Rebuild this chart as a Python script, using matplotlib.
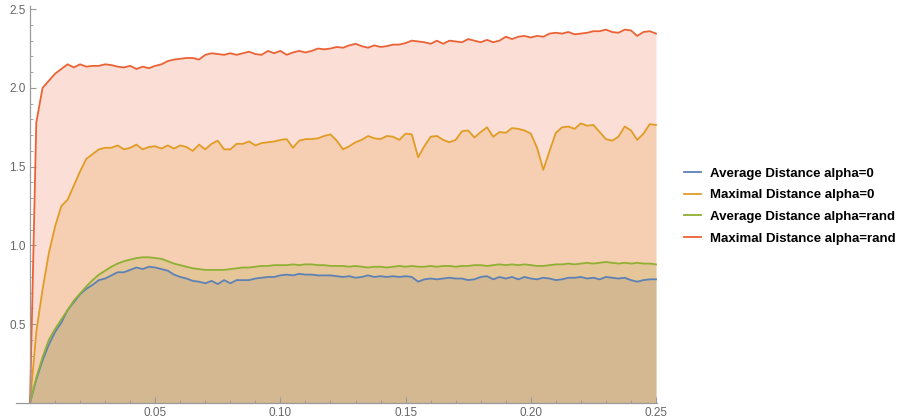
import matplotlib.pyplot as plt
import numpy as np
from matplotlib.ticker import MultipleLocator, FixedLocator

x = np.linspace(0, 0.25, 101)

avg_alpha0 = [0, 0.15, 0.27, 0.37, 0.45, 0.51, 0.59, 0.64, 0.69, 0.725,
              0.75, 0.78, 0.79, 0.81, 0.83, 0.83, 0.845, 0.86, 0.85, 0.865,
              0.86, 0.85, 0.84, 0.815, 0.80, 0.79, 0.775, 0.77, 0.76, 0.775,
              0.755, 0.78, 0.76, 0.78, 0.78, 0.78, 0.79, 0.795, 0.80, 0.80,
              0.81, 0.815, 0.81, 0.82, 0.815, 0.815, 0.81, 0.81, 0.81, 0.805,
              0.80, 0.805, 0.795, 0.80, 0.81, 0.80, 0.805, 0.80, 0.805, 0.80,
              0.805, 0.80, 0.77, 0.785, 0.79, 0.785, 0.79, 0.795, 0.79, 0.79,
              0.78, 0.785, 0.80, 0.805, 0.785, 0.80, 0.79, 0.80, 0.785, 0.80,
              0.79, 0.785, 0.795, 0.79, 0.78, 0.785, 0.795, 0.795, 0.80, 0.79,
              0.795, 0.785, 0.80, 0.795, 0.79, 0.795, 0.78, 0.77, 0.78, 0.785,
              0.785]

max_alpha0 = [0, 0.45, 0.72, 0.95, 1.12, 1.25, 1.29, 1.38, 1.47, 1.55,
              1.58, 1.61, 1.62, 1.62, 1.635, 1.61, 1.62, 1.64, 1.61, 1.625,
              1.63, 1.615, 1.635, 1.615, 1.635, 1.625, 1.60, 1.64, 1.61, 1.645,
              1.665, 1.61, 1.61, 1.645, 1.645, 1.66, 1.635, 1.65, 1.655, 1.66,
              1.67, 1.675, 1.62, 1.665, 1.675, 1.675, 1.68, 1.695, 1.705, 1.665,
              1.61, 1.63, 1.655, 1.67, 1.695, 1.68, 1.675, 1.695, 1.69, 1.67,
              1.71, 1.705, 1.56, 1.63, 1.69, 1.695, 1.67, 1.655, 1.67, 1.725,
              1.73, 1.685, 1.72, 1.75, 1.69, 1.72, 1.715, 1.745, 1.74, 1.73,
              1.71, 1.62, 1.48, 1.60, 1.715, 1.75, 1.755, 1.74, 1.775, 1.76,
              1.765, 1.72, 1.675, 1.665, 1.69, 1.755, 1.73, 1.67, 1.71, 1.77,
              1.765]

avg_rand = [0, 0.16, 0.29, 0.40, 0.47, 0.53, 0.59, 0.65, 0.695, 0.74,
            0.78, 0.815, 0.84, 0.865, 0.885, 0.90, 0.91, 0.92, 0.925, 0.925,
            0.92, 0.915, 0.90, 0.885, 0.875, 0.865, 0.855, 0.85, 0.845, 0.845,
            0.845, 0.845, 0.85, 0.855, 0.86, 0.86, 0.865, 0.87, 0.87, 0.875,
            0.875, 0.875, 0.88, 0.875, 0.88, 0.88, 0.875, 0.875, 0.87, 0.87,
            0.87, 0.865, 0.87, 0.865, 0.86, 0.865, 0.865, 0.86, 0.865, 0.87,
            0.865, 0.87, 0.865, 0.865, 0.87, 0.865, 0.87, 0.87, 0.865, 0.87,
            0.87, 0.875, 0.875, 0.87, 0.875, 0.88, 0.875, 0.88, 0.875, 0.88,
            0.875, 0.87, 0.87, 0.875, 0.88, 0.88, 0.885, 0.88, 0.885, 0.89,
            0.885, 0.89, 0.895, 0.89, 0.885, 0.89, 0.885, 0.89, 0.885, 0.885,
            0.88]

max_rand = [0, 1.78, 2.0, 2.045, 2.09, 2.12, 2.15, 2.13, 2.15, 2.135,
            2.14, 2.14, 2.15, 2.145, 2.135, 2.13, 2.14, 2.12, 2.135, 2.125,
            2.14, 2.15, 2.17, 2.18, 2.185, 2.19, 2.19, 2.18, 2.21, 2.22,
            2.215, 2.21, 2.22, 2.21, 2.22, 2.23, 2.215, 2.21, 2.235, 2.22,
            2.235, 2.21, 2.225, 2.235, 2.225, 2.235, 2.25, 2.245, 2.25, 2.26,
            2.255, 2.27, 2.28, 2.265, 2.255, 2.27, 2.26, 2.265, 2.275, 2.275,
            2.285, 2.30, 2.295, 2.29, 2.28, 2.30, 2.28, 2.30, 2.295, 2.29,
            2.31, 2.30, 2.29, 2.305, 2.29, 2.30, 2.325, 2.31, 2.325, 2.33,
            2.32, 2.33, 2.325, 2.345, 2.35, 2.345, 2.355, 2.34, 2.345, 2.35,
            2.36, 2.36, 2.37, 2.355, 2.35, 2.37, 2.365, 2.33, 2.355, 2.36,
            2.345]

labels = ['Average Distance alpha=0', 'Maximal Distance alpha=0',
          'Average Distance alpha=rand', 'Maximal Distance alpha=rand']
series = [avg_alpha0, max_alpha0, avg_rand, max_rand]
colors = ['#5E81B5', '#E19C24', '#8FB032', '#EB6235']   # Mathematica default palette

fig = plt.figure(figsize=(8.99, 4.2), dpi=100)
ax = fig.add_axes([16/899, 17/420, 641/899, 397/420])

# fills first (filling to axis, opacity 0.2), then lines on top
for ys, c in zip(series, colors):
    ax.fill_between(x, 0, ys, color=c, alpha=0.2, lw=0)
for ys, c, lab in zip(series, colors, labels):
    ax.plot(x, ys, color=c, lw=1.3, label=lab)

ax.set_xlim(-0.0056, 0.2504)
ax.set_ylim(0, 2.52)

gray = '#9a9a9a'
for s in ['top', 'right']:
    ax.spines[s].set_visible(False)
ax.spines['left'].set_position(('data', 0))
for s in ['left', 'bottom']:
    ax.spines[s].set_color(gray)
    ax.spines[s].set_linewidth(0.9)

ax.xaxis.set_major_locator(FixedLocator([0.05, 0.10, 0.15, 0.20, 0.25]))
ax.xaxis.set_minor_locator(MultipleLocator(0.01))
ax.yaxis.set_major_locator(FixedLocator([0.5, 1.0, 1.5, 2.0, 2.5]))
ax.yaxis.set_minor_locator(MultipleLocator(0.1))
ax.set_xticklabels(['0.05', '0.10', '0.15', '0.20', '0.25'])
ax.set_yticklabels(['0.5', '1.0', '1.5', '2.0', '2.5'])
ax.tick_params(which='major', direction='in', length=4, width=0.8, color=gray,
               labelsize=8.5, labelcolor='#666666', pad=3)
ax.tick_params(which='minor', direction='in', length=2.2, width=0.6, color=gray)
for lbl in ax.get_xticklabels() + ax.get_yticklabels():
    lbl.set_family('Liberation Sans')

fig.legend(loc='center left', bbox_to_anchor=(672/899, 1 - 206/420), frameon=False,
           prop={'family': 'Liberation Sans', 'weight': 'bold', 'size': 9.5},
           handlelength=1.3, handletextpad=0.7, labelspacing=0.72)

fig.savefig('out.png', dpi=100)
